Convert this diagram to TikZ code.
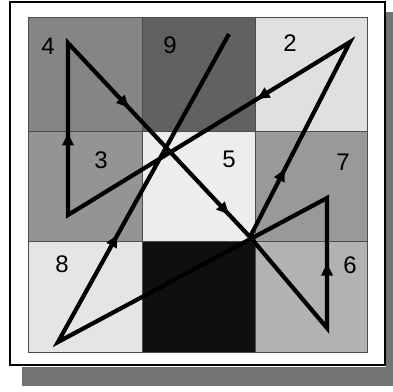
\documentclass[tikz,border=0pt]{standalone}
\usepackage{fontspec}
\setmainfont{Liberation Sans}
\usetikzlibrary{decorations.markings}
\begin{document}
\begin{tikzpicture}[x=1pt,y=-1pt,
  cell/.style={draw=black!70,line width=0.8pt},
  num/.style={font=\fontsize{24}{24}\selectfont,inner sep=0pt},
  seg/.style={line width=4.2pt,line join=miter,miter limit=12},
  arr/.style={postaction={decorate,decoration={markings,
      mark=at position #1 with {\fill (6pt,0pt) -- (-6pt,6pt) -- (-6pt,-6pt) -- cycle;}}}}]
\useasboundingbox (0,0) rectangle (393,391);
% shadow
\fill[black!55] (22,367) rectangle (393,386);
\fill[black!55] (386,12) rectangle (393,386);
% frame
\draw[fill=white,line width=1.6pt] (10,2) rectangle (385,365);
% cells (4 9 2 / 3 5 7 / 8 1 6)
\fill[black!48] (28,17) rectangle (142,131);
\fill[black!62] (142,17) rectangle (255,131);
\fill[black!12] (255,17) rectangle (367,131);
\fill[black!42] (28,131) rectangle (142,241);
\fill[black!7] (142,131) rectangle (255,241);
\fill[black!40] (255,131) rectangle (367,241);
\fill[black!10] (28,241) rectangle (142,352);
\fill[black!94] (142,241) rectangle (255,352);
\fill[black!30] (255,241) rectangle (367,352);
\draw[cell] (28,17) rectangle (367,352);
\draw[cell] (142,17) -- (142,352) (255,17) -- (255,352)
            (28,131) -- (367,131) (28,241) -- (367,241);
% numbers
\node[num] (n4) at (48,46) {4};
\node[num] (n9) at (170,45) {9};
\node[num] (n2) at (290,43) {2};
\node[num] (n3) at (101,160) {3};
\node[num] (n5) at (229,159) {5};
\node[num] (n7) at (343,162) {7};
\node[num] (n8) at (62,264) {8};
\node[num] (n6) at (350,265) {6};
% path vertices
\coordinate (v1) at (250,237);
\coordinate (v2) at (350,42);
\coordinate (v3) at (68,215);
\coordinate (v4) at (68,43);
\coordinate (v6) at (327,328);
\coordinate (v7) at (327,198);
\coordinate (v8) at (58,342);
\coordinate (v9) at (229,34);
\draw[seg] (v1) -- (v2) -- (v3) -- (v4) -- (v1) -- (v6) -- (v7) -- (v8) -- (v9);
% arrowheads
\path[arr=0.32] (v1) -- (v2);
\path[arr=0.31] (v2) -- (v3);
\path[arr=0.44] (v3) -- (v4);
\path[arr=0.31] (v4) -- (v1);
\path[arr=0.86] (v4) -- (v1);
\path[arr=0.45] (v6) -- (v7);
\path[arr=0.33] (v8) -- (v9);
\end{tikzpicture}
\end{document}
